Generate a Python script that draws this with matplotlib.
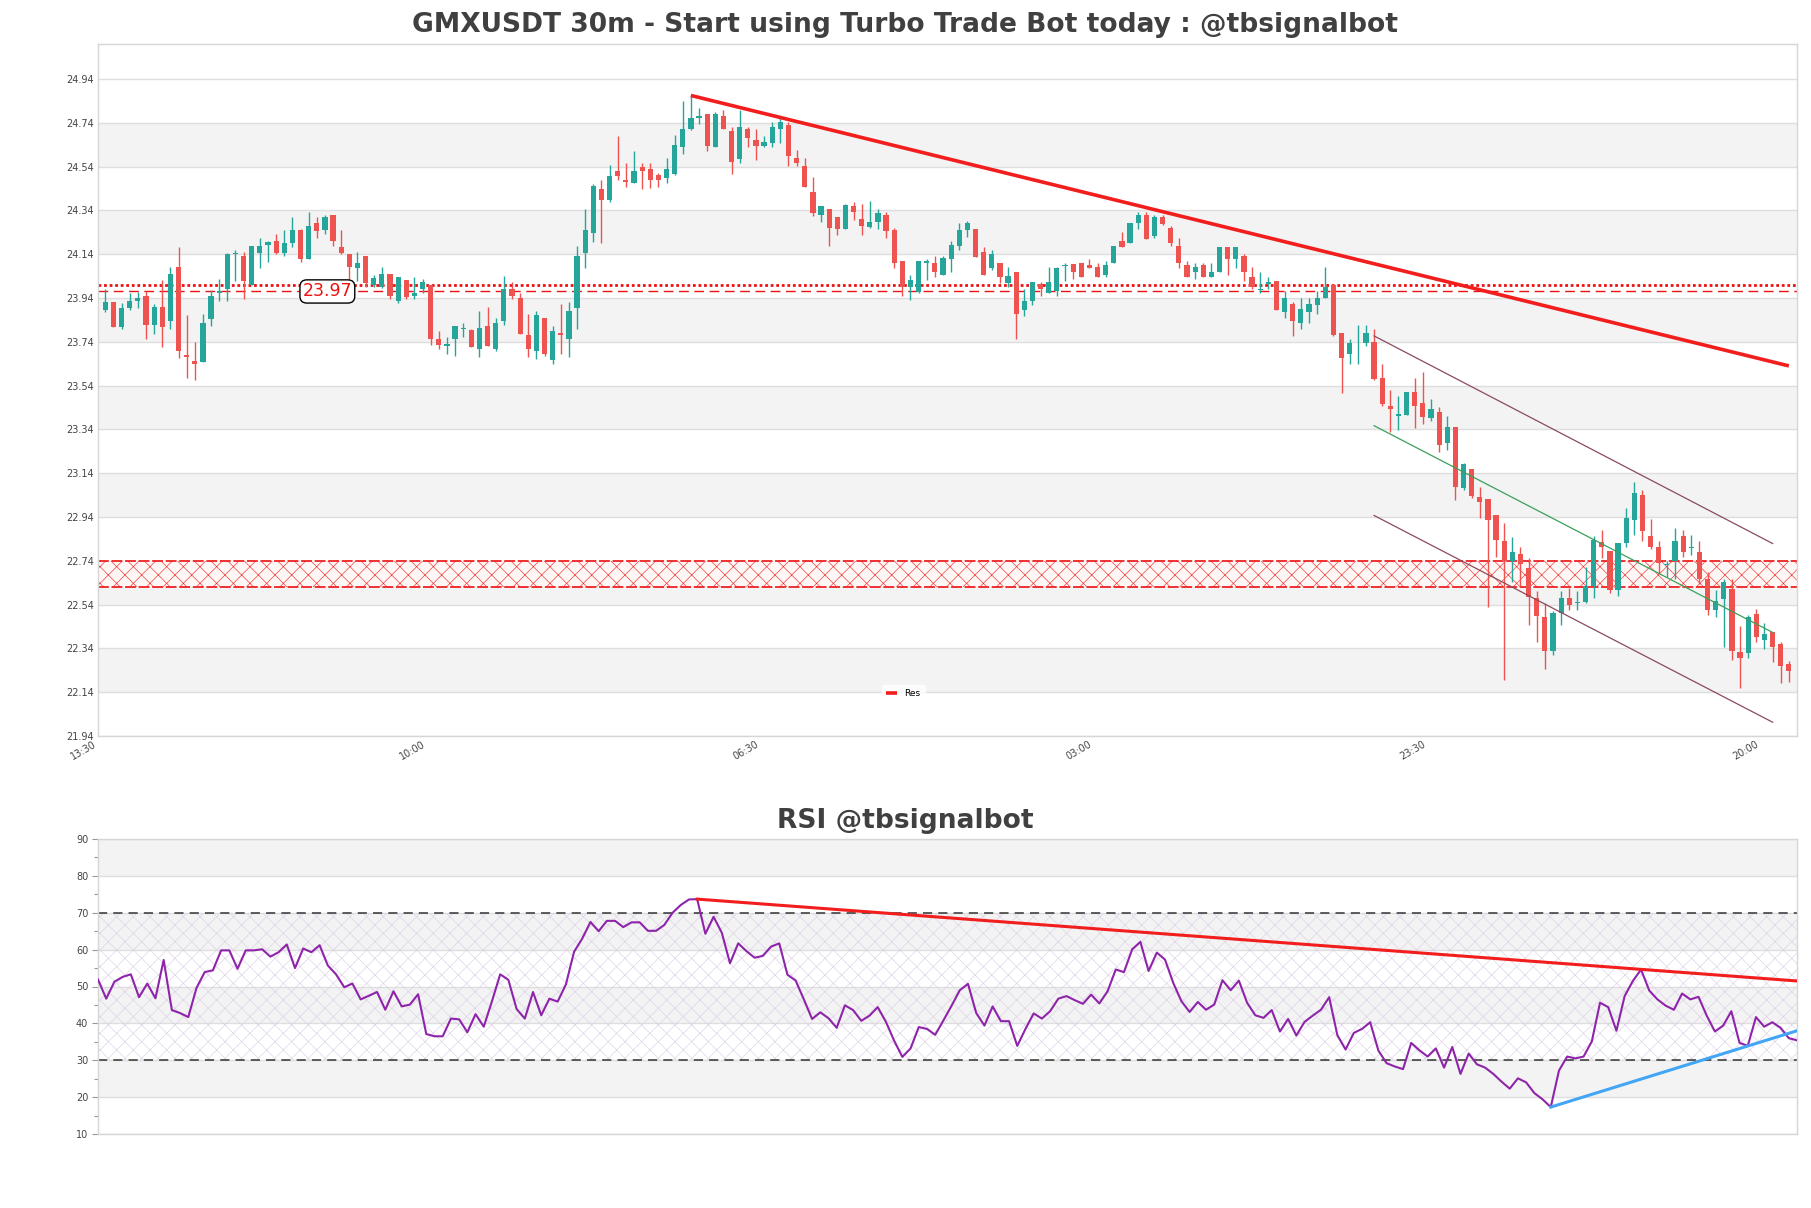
import numpy as np
import matplotlib
matplotlib.use("Agg")
import matplotlib.pyplot as plt
from matplotlib.ticker import FixedLocator, MultipleLocator

plt.rcParams['font.family'] = ['DejaVu Sans']
plt.rcParams['hatch.linewidth'] = 0.45

# ---------------- data ----------------
opens = [23.885, 23.920, 23.808, 23.894, 23.928, 23.949, 23.816, 23.898, 23.836, 24.081,
         23.681, 23.651, 23.649, 23.845, 23.963, 23.979, 24.140, 24.132, 24.000, 24.146,
         24.183, 24.199, 24.146, 24.189, 24.251, 24.120, 24.281, 24.251, 24.318, 24.171,
         24.142, 24.079, 24.132, 23.998, 23.992, 24.049, 23.926, 24.022, 23.947, 23.979,
         24.000, 23.753, 23.720, 23.751, 23.800, 23.792, 23.706, 23.812, 23.706, 23.836,
         23.981, 23.940, 23.771, 23.700, 23.849, 23.659, 23.780, 23.751, 23.896, 24.146,
         24.238, 24.440, 24.387, 24.518, 24.481, 24.467, 24.540, 24.528, 24.504, 24.489,
         24.506, 24.628, 24.712, 24.763, 24.779, 24.628, 24.771, 24.703, 24.577, 24.712,
         24.661, 24.636, 24.650, 24.712, 24.730, 24.579, 24.542, 24.426, 24.318, 24.348,
         24.310, 24.257, 24.359, 24.301, 24.265, 24.289, 24.320, 24.251, 24.108, 23.992,
         23.967, 24.098, 24.098, 24.047, 24.120, 24.179, 24.251, 24.257, 24.151, 24.077,
         24.098, 24.008, 24.059, 23.885, 23.928, 24.002, 23.963, 23.971, 24.085, 24.094,
         24.098, 24.091, 24.081, 24.047, 24.102, 24.199, 24.189, 24.281, 24.318, 24.224,
         24.310, 24.261, 24.179, 24.089, 24.057, 24.089, 24.038, 24.057, 24.171, 24.120,
         24.134, 24.038, 23.975, 24.002, 24.020, 23.877, 23.914, 23.828, 23.877, 23.910,
         23.938, 23.999, 23.779, 23.686, 23.751, 23.736, 23.739, 23.577, 23.449, 23.400,
         23.406, 23.510, 23.459, 23.394, 23.418, 23.278, 23.351, 23.074, 23.161, 23.033,
         23.020, 22.949, 22.829, 22.739, 22.772, 22.707, 22.570, 22.482, 22.329, 22.503,
         22.568, 22.549, 22.554, 22.625, 22.827, 22.784, 22.606, 22.823, 22.927, 23.041,
         22.854, 22.803, 22.721, 22.737, 22.854, 22.797, 22.778, 22.658, 22.517, 22.564,
         22.611, 22.323, 22.319, 22.498, 22.380, 22.416, 22.360, 22.270]
highs = [23.981, 23.920, 23.918, 23.963, 23.969, 23.971, 23.914, 24.022, 24.083, 24.173,
         23.863, 23.738, 23.869, 23.975, 24.028, 24.146, 24.159, 24.151, 24.179, 24.216,
         24.199, 24.232, 24.251, 24.310, 24.257, 24.332, 24.312, 24.318, 24.318, 24.251,
         24.142, 24.151, 24.132, 24.047, 24.081, 24.049, 24.038, 24.022, 24.038, 24.028,
         24.000, 23.788, 23.763, 23.812, 23.828, 23.798, 23.879, 23.898, 23.849, 24.040,
         24.012, 23.965, 23.865, 23.879, 23.849, 23.812, 23.912, 23.920, 24.179, 24.348,
         24.461, 24.481, 24.548, 24.679, 24.558, 24.610, 24.558, 24.558, 24.510, 24.579,
         24.683, 24.838, 24.865, 24.809, 24.779, 24.789, 24.797, 24.722, 24.797, 24.722,
         24.712, 24.681, 24.744, 24.763, 24.746, 24.618, 24.579, 24.493, 24.361, 24.348,
         24.310, 24.369, 24.379, 24.369, 24.383, 24.348, 24.332, 24.261, 24.108, 24.047,
         24.108, 24.118, 24.132, 24.132, 24.199, 24.281, 24.293, 24.257, 24.171, 24.159,
         24.098, 24.081, 24.059, 23.981, 24.012, 24.012, 24.081, 24.081, 24.102, 24.094,
         24.098, 24.118, 24.098, 24.108, 24.179, 24.240, 24.281, 24.332, 24.332, 24.318,
         24.318, 24.269, 24.216, 24.110, 24.098, 24.098, 24.098, 24.171, 24.171, 24.171,
         24.140, 24.081, 24.057, 24.038, 24.020, 23.971, 23.924, 23.938, 23.940, 23.971,
         24.081, 23.999, 23.779, 23.753, 23.818, 23.818, 23.800, 23.641, 23.518, 23.492,
         23.510, 23.577, 23.600, 23.477, 23.443, 23.400, 23.351, 23.186, 23.161, 23.078,
         23.020, 22.949, 22.912, 22.851, 22.803, 22.752, 22.601, 22.549, 22.513, 22.601,
         22.615, 22.601, 22.711, 22.854, 22.880, 22.784, 22.823, 22.980, 23.098, 23.063,
         22.929, 22.829, 22.737, 22.890, 22.880, 22.860, 22.829, 22.690, 22.605, 22.656,
         22.656, 22.441, 22.492, 22.519, 22.458, 22.416, 22.370, 22.282]
lows = [23.875, 23.808, 23.798, 23.885, 23.896, 23.751, 23.777, 23.716, 23.800, 23.665,
        23.575, 23.567, 23.649, 23.812, 23.928, 23.928, 24.020, 23.934, 24.000, 24.079,
        24.106, 24.142, 24.130, 24.175, 24.106, 24.120, 24.216, 24.232, 24.179, 24.142,
        24.026, 24.020, 23.992, 23.992, 23.988, 23.936, 23.918, 23.936, 23.936, 23.961,
        23.726, 23.706, 23.686, 23.677, 23.763, 23.718, 23.669, 23.720, 23.698, 23.818,
        23.936, 23.775, 23.669, 23.661, 23.677, 23.641, 23.686, 23.669, 23.800, 24.079,
        24.195, 24.189, 24.379, 24.477, 24.448, 24.467, 24.440, 24.442, 24.448, 24.467,
        24.502, 24.599, 24.706, 24.736, 24.610, 24.628, 24.712, 24.508, 24.558, 24.628,
        24.569, 24.628, 24.628, 24.650, 24.542, 24.542, 24.448, 24.316, 24.289, 24.179,
        24.230, 24.253, 24.297, 24.230, 24.261, 24.257, 24.216, 24.079, 23.951, 23.930,
        23.963, 24.022, 24.038, 24.047, 24.059, 24.159, 24.220, 24.128, 24.047, 24.069,
        24.008, 23.989, 23.751, 23.857, 23.906, 23.951, 23.963, 23.947, 24.018, 24.028,
        24.038, 24.079, 24.038, 24.038, 24.098, 24.171, 24.189, 24.255, 24.210, 24.214,
        24.273, 24.179, 24.079, 24.038, 24.028, 24.038, 24.038, 24.057, 24.047, 24.079,
        24.018, 23.981, 23.963, 23.981, 23.887, 23.847, 23.767, 23.800, 23.828, 23.869,
        23.938, 23.767, 23.508, 23.639, 23.641, 23.720, 23.567, 23.445, 23.329, 23.337,
        23.406, 23.347, 23.365, 23.380, 23.239, 23.247, 23.018, 23.063, 23.029, 22.937,
        22.529, 22.757, 22.197, 22.645, 22.625, 22.448, 22.370, 22.247, 22.308, 22.448,
        22.517, 22.517, 22.547, 22.568, 22.752, 22.595, 22.578, 22.804, 22.860, 22.829,
        22.792, 22.686, 22.666, 22.658, 22.757, 22.768, 22.635, 22.492, 22.482, 22.347,
        22.288, 22.160, 22.298, 22.370, 22.339, 22.278, 22.180, 22.186]
closes = [23.920, 23.808, 23.896, 23.928, 23.938, 23.816, 23.898, 23.808, 24.049, 23.698,
          23.669, 23.641, 23.828, 23.947, 23.971, 24.142, 24.142, 24.020, 24.179, 24.179,
          24.195, 24.146, 24.189, 24.251, 24.120, 24.267, 24.248, 24.310, 24.199, 24.146,
          24.081, 24.100, 24.010, 24.030, 24.049, 23.947, 24.038, 23.945, 23.965, 24.012,
          23.751, 23.726, 23.732, 23.812, 23.802, 23.718, 23.802, 23.720, 23.828, 23.981,
          23.947, 23.775, 23.708, 23.863, 23.684, 23.790, 23.769, 23.879, 24.132, 24.251,
          24.452, 24.389, 24.497, 24.497, 24.469, 24.518, 24.518, 24.477, 24.477, 24.530,
          24.638, 24.712, 24.760, 24.769, 24.634, 24.781, 24.712, 24.561, 24.722, 24.669,
          24.636, 24.652, 24.722, 24.742, 24.587, 24.558, 24.448, 24.328, 24.361, 24.259,
          24.257, 24.363, 24.332, 24.267, 24.289, 24.330, 24.248, 24.098, 23.992, 24.022,
          24.108, 24.108, 24.057, 24.124, 24.181, 24.251, 24.283, 24.128, 24.047, 24.140,
          24.038, 24.040, 23.867, 23.928, 24.012, 23.981, 24.012, 24.077, 24.089, 24.057,
          24.038, 24.079, 24.038, 24.091, 24.179, 24.171, 24.281, 24.318, 24.210, 24.312,
          24.277, 24.191, 24.098, 24.038, 24.081, 24.038, 24.057, 24.171, 24.120, 24.171,
          24.057, 23.989, 23.981, 24.012, 23.887, 23.940, 23.834, 23.889, 23.912, 23.940,
          23.989, 23.773, 23.667, 23.736, 23.753, 23.779, 23.571, 23.455, 23.431, 23.410,
          23.510, 23.449, 23.398, 23.431, 23.270, 23.351, 23.076, 23.180, 23.035, 23.010,
          22.927, 22.835, 22.737, 22.780, 22.725, 22.576, 22.488, 22.329, 22.503, 22.570,
          22.539, 22.554, 22.625, 22.833, 22.803, 22.606, 22.823, 22.937, 23.051, 22.878,
          22.803, 22.731, 22.727, 22.829, 22.778, 22.803, 22.655, 22.517, 22.558, 22.642,
          22.329, 22.298, 22.482, 22.390, 22.406, 22.347, 22.258, 22.237]
rsi = [51.9, 46.7, 51.3, 52.6, 53.3, 47.1, 50.8, 46.8, 57.2, 43.6,
       42.8, 41.7, 49.6, 53.9, 54.4, 59.8, 59.8, 54.8, 59.8, 59.8,
       60.1, 58.1, 59.3, 61.4, 55.0, 60.3, 59.3, 61.2, 55.7, 53.3,
       49.8, 50.8, 46.5, 47.5, 48.5, 43.7, 48.7, 44.6, 45.1, 47.9,
       37.1, 36.5, 36.5, 41.3, 41.1, 37.6, 42.5, 39.1, 46.0, 53.3,
       51.8, 43.9, 41.3, 48.5, 42.2, 46.7, 45.9, 50.5, 59.4, 63.0,
       67.5, 65.0, 67.8, 67.8, 66.1, 67.4, 67.4, 65.1, 65.1, 66.7,
       70.0, 72.1, 73.6, 73.7, 64.3, 68.9, 64.6, 56.3, 61.7, 59.6,
       57.8, 58.3, 60.8, 61.7, 53.2, 51.6, 46.5, 41.2, 43.0, 41.4,
       38.8, 44.9, 43.6, 40.7, 42.1, 44.4, 40.4, 35.3, 30.9, 33.2,
       39.0, 38.5, 36.9, 40.8, 44.8, 49.0, 50.7, 42.8, 39.4, 44.6,
       40.6, 40.6, 33.9, 38.5, 42.7, 41.3, 43.3, 46.7, 47.4, 46.3,
       45.3, 47.8, 45.4, 48.7, 54.6, 53.9, 60.1, 62.1, 54.2, 59.2,
       57.3, 51.0, 46.0, 43.1, 45.8, 43.7, 45.1, 51.7, 49.0, 51.6,
       45.6, 42.2, 41.5, 43.6, 37.8, 41.2, 36.7, 40.4, 42.1, 43.7,
       47.1, 36.8, 32.9, 37.4, 38.5, 40.3, 32.6, 29.2, 28.3, 27.6,
       34.7, 32.7, 31.0, 33.2, 28.0, 33.6, 26.3, 31.8, 28.9, 28.0,
       26.3, 24.2, 22.3, 25.1, 24.0, 21.1, 19.4, 17.3, 27.2, 31.0,
       30.5, 31.0, 35.1, 45.6, 44.4, 38.0, 47.4, 51.5, 54.6, 48.9,
       46.5, 44.8, 43.7, 48.1, 46.5, 47.2, 42.1, 37.8, 39.4, 43.3,
       34.7, 33.9, 41.7, 39.1, 40.3, 38.8, 36.0, 35.4]

xtick_labels = ['13:30', '10:00', '06:30', '03:00', '23:30', '20:00']
xtick_index = [-0.9, 39.5, 80.5, 121.5, 162.5, 203.5]
price_ticks = [21.94, 22.14, 22.34, 22.54, 22.74, 22.94, 23.14, 23.34, 23.54,
               23.74, 23.94, 24.14, 24.34, 24.54, 24.74, 24.94]

res_x = [72, 207]
res_y = [24.865, 23.630]
chan_x = [156, 205]
chan_upper = [23.767, 22.819]
chan_mid = [23.357, 22.413]
chan_lower = [22.947, 22.003]
zone_lo, zone_hi = 22.621, 22.737
level_dotted = 24.00
level_dashed = 23.97
label_x = 27.3

rsi_res_x = [73, 207]
rsi_res_y = [73.7, 51.5]
rsi_sup_x = [177, 207]
rsi_sup_y = [17.3, 38.0]

# ---------------- figure ----------------
W, H = 1811, 1208
fig = plt.figure(figsize=(W / 100, H / 100), dpi=100)
fig.patch.set_facecolor('white')

def rect(x0, y0, x1, y1):
    return [x0 / W, 1 - y1 / H, (x1 - x0) / W, (y1 - y0) / H]

ax = fig.add_axes(rect(98, 44, 1797, 736))
axr = fig.add_axes(rect(98, 839, 1797, 1134))

band = '#f3f3f3'
gridc = '#dedede'
spinec = '#d6d6d6'
txtc = '#444444'

# ----- main panel -----
o = np.array(opens); h = np.array(highs); l = np.array(lows); c = np.array(closes)
n = len(o)
x = np.arange(n)
ax.set_xlim(-0.9, n)
ax.set_ylim(21.94, 25.10)

for k in range(1, len(price_ticks) - 1, 2):
    ax.axhspan(price_ticks[k], price_ticks[k + 1], color=band, zorder=0, lw=0)
for t in price_ticks:
    ax.axhline(t, color=gridc, lw=1.0, zorder=0.6)

# zone
ax.fill_between([-0.9, n], zone_lo, zone_hi, facecolor='#fff6f6', edgecolor='#f03030',
                hatch='xx', lw=0, zorder=1)
ax.axhline(zone_lo, color='#ee2222', lw=1.3, ls=(0, (6, 1.5)), zorder=1.2)
ax.axhline(zone_hi, color='#ee2222', lw=1.3, ls=(0, (6, 1.5)), zorder=1.2)

# levels
ax.axhline(level_dotted, color='#ee1111', lw=2.0, ls=(0, (1, 1)), zorder=2)
ax.axhline(level_dashed, color='#ee1111', lw=1.0, ls=(0, (7, 4)), zorder=2)

up = c >= o
col = np.where(up, '#26a69a', '#ef5350')
ax.vlines(x, l, h, colors=col, lw=1.0, zorder=3)
bottom = np.minimum(o, c)
height = np.maximum(np.abs(c - o), 0.004)
ax.bar(x, height, bottom=bottom, width=0.64, color=col, lw=0, zorder=4)

ax.plot(res_x, res_y, color='#f21d1d', lw=2.6, zorder=5, label='Res', solid_capstyle='butt')
ax.plot(chan_x, chan_upper, color='#8a4b5a', lw=0.9, zorder=5)
ax.plot(chan_x, chan_lower, color='#8a4b5a', lw=0.9, zorder=5)
ax.plot(chan_x, chan_mid, color='#3a9f5c', lw=0.9, zorder=5)

ax.text(label_x, level_dashed, '23.97', color='#ee1111', fontsize=12.5, ha='center',
        va='center', zorder=6,
        bbox=dict(boxstyle='round,pad=0.15,rounding_size=0.4', fc='white', ec='black', lw=1.0))

leg = ax.legend(loc='center', bbox_to_anchor=(0.474, 0.061), fontsize=6.5,
                handlelength=1.2, frameon=True, borderpad=0.5)
leg.get_frame().set_edgecolor('white')
leg.get_frame().set_facecolor('white')

ax.yaxis.set_major_locator(FixedLocator(price_ticks))
ax.set_yticklabels([f'{t:.2f}' for t in price_ticks])
ax.xaxis.set_major_locator(FixedLocator(xtick_index))
ax.set_xticklabels(xtick_labels, rotation=30, ha='right')
ax.tick_params(axis='both', length=0, labelsize=7, colors=txtc, pad=3)
ax.tick_params(axis='x', pad=2)
for s in ax.spines.values():
    s.set_color(spinec)
    s.set_linewidth(1.0)

# ----- RSI panel -----
r = np.array(rsi)
xr = np.arange(len(r))
axr.set_xlim(0, len(r) - 1)
axr.set_ylim(10, 90)
for lo in (20, 40, 60, 80):
    axr.axhspan(lo, lo + 10, color=band, zorder=0, lw=0)
for t in range(10, 91, 10):
    axr.axhline(t, color=gridc, lw=1.0, zorder=0.6)
axr.fill_between([0, len(r) - 1], 30, 70, facecolor='none', edgecolor='#ddd0e6',
                 hatch='xx', lw=0, zorder=0.8)
axr.axhline(70, color='#333333', lw=1.1, ls=(0, (6, 4)), zorder=1)
axr.axhline(30, color='#333333', lw=1.1, ls=(0, (6, 4)), zorder=1)
axr.plot(xr, r, color='#8e24aa', lw=1.5, zorder=3)
axr.plot(rsi_res_x, rsi_res_y, color='#f21d1d', lw=2.2, zorder=4)
axr.plot(rsi_sup_x, rsi_sup_y, color='#42a5f5', lw=2.2, zorder=4)

axr.yaxis.set_major_locator(MultipleLocator(10))
axr.yaxis.set_minor_locator(MultipleLocator(5))
axr.set_xticks([])
axr.tick_params(axis='y', which='major', length=4, width=0.8, color='#999999',
                labelsize=7, labelcolor=txtc, pad=3)
axr.tick_params(axis='y', which='minor', length=3, width=0.8, color='#999999')
for s in axr.spines.values():
    s.set_color(spinec)
    s.set_linewidth(1.0)

# titles
fig.text(0.5, 1 - 25 / H, 'GMXUSDT 30m - Start using Turbo Trade Bot today : @tbsignalbot',
         ha='center', va='center', fontsize=19.1, fontweight='bold', color='#404040')
fig.text(0.5, 1 - 821 / H, 'RSI @tbsignalbot', ha='center', va='center',
         fontsize=19.1, fontweight='bold', color='#404040')

fig.savefig('out.png', dpi=100, facecolor='white')
